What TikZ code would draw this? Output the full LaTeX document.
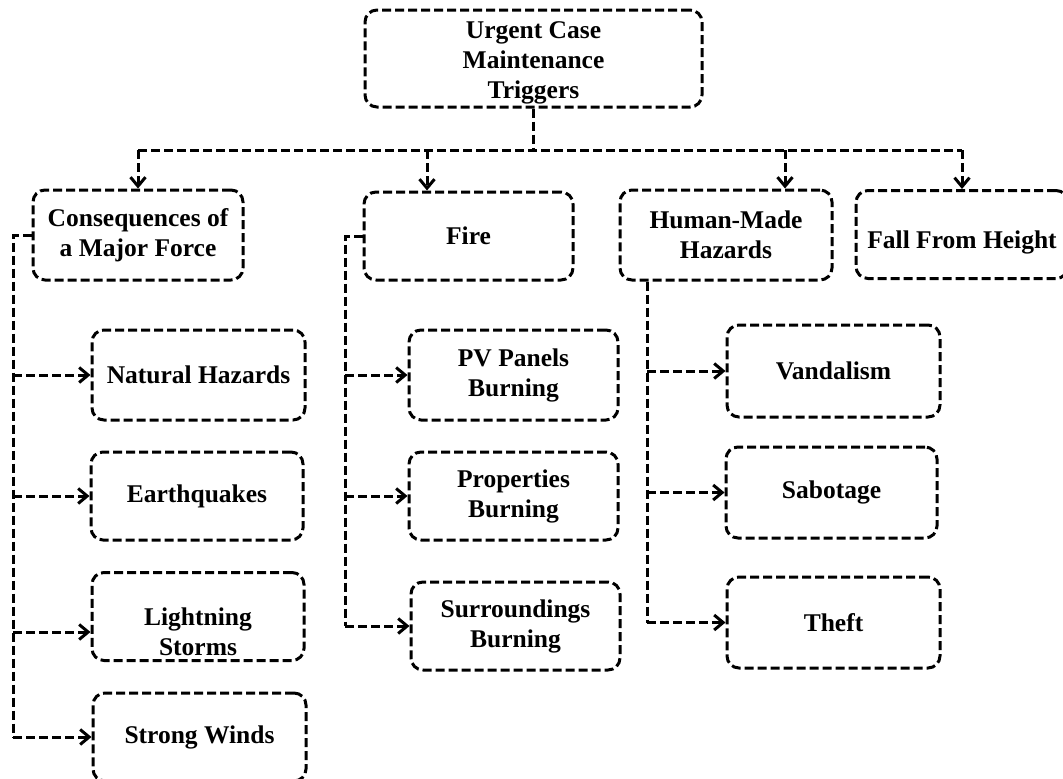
\documentclass[tikz,border=0pt]{standalone}
\usepackage{fontspec}
\setmainfont{Liberation Serif}
\usetikzlibrary{arrows.meta, calc}

\begin{document}
\begin{tikzpicture}[x=1pt, y=-1pt,
  box/.style={draw, line width=3pt, dash pattern=on 9pt off 4pt,
              rounded corners=12pt, minimum width=212pt, minimum height=88pt,
              align=center, font=\fontsize{25.5}{30}\selectfont\bfseries},
  wire/.style={draw, line width=3pt, dash pattern=on 9pt off 4pt},
  feed/.style={wire, -{Straight Barb[length=9pt, width=15pt]}},
]
  \useasboundingbox (0,0) rectangle (1063,779);

  \node[box, minimum width=337pt, minimum height=97pt] (top) at (533.5,58.5) {\raisebox{-10pt}[0pt][0pt]{\begin{tabular}{@{}c@{}}Urgent Case\\Maintenance\\Triggers\end{tabular}}};

  \node[box, minimum width=210pt, minimum height=90pt] (force) at (138,235) {Consequences of\\a Major Force};
  \node[box, minimum width=209pt] (fire) at (468.5,236) {Fire};
  \node[box, minimum height=90pt] (human) at (726,235) {Human-Made\\Hazards};
  \node[box] (fall) at (962,234.5) {\raisebox{-14pt}[0pt][0pt]{Fall From Height}};

  \node[box, minimum width=213pt, minimum height=90pt] (natural) at (198.5,375) {Natural Hazards};
  \node[box] (quake) at (197,496) {Earthquakes};
  \node[box] (storm) at (198,616.5) {\raisebox{-24pt}[0pt][0pt]{\begin{tabular}{@{}c@{}}Lightning\\Storms\end{tabular}}};
  \node[box, minimum width=213pt] (wind) at (199.5,737) {Strong Winds};

  \node[box, minimum width=209pt, minimum height=90pt] (pv) at (513.5,375) {PV Panels\\Burning};
  \node[box, minimum width=209pt] (prop) at (513.5,496) {Properties\\Burning};
  \node[box, minimum width=209pt] (surr) at (515.5,626) {Surroundings\\Burning};

  \node[box, minimum width=213pt, minimum height=92pt] (vand) at (833.5,371) {Vandalism};
  \node[box, minimum width=211pt, minimum height=91pt] (sabo) at (831.5,492.5) {Sabotage};
  \node[box, minimum width=213pt, minimum height=91pt] (theft) at (833.5,622.5) {Theft};

  \coordinate (bus) at (0,150);
  \coordinate (lbus) at (13,0);
  \coordinate (fbus) at (345,0);
  \coordinate (hbus) at (647,0);
  \coordinate (firein) at ($(fire.north)+(-41.5,0)$);
  \coordinate (humanin) at ($(human.north)+(59,0)$);
  \coordinate (stormin) at ($(storm.west)+(0,15.5)$);

  \draw[wire] (top.south) -- (top.south |- bus);
  \draw[wire] (force.north |- bus) -- (fall.north |- bus);
  \draw[feed] (force.north |- bus) -- (force.north);
  \draw[feed] (firein |- bus) -- (firein);
  \draw[feed] (humanin |- bus) -- (humanin);
  \draw[feed] (fall.north |- bus) -- (fall.north);

  \draw[wire] (force.west) -| (lbus |- wind.west);
  \foreach \n in {natural, quake, wind}
    \draw[feed] (lbus |- \n.west) -- (\n.west);
  \draw[feed] (lbus |- stormin) -- (stormin);

  \draw[wire] (fire.west) -| (fbus |- surr.west);
  \foreach \n in {pv, prop, surr}
    \draw[feed] (fbus |- \n.west) -- (\n.west);

  \draw[wire] (hbus |- human.south) -- (hbus |- theft.west);
  \foreach \n in {vand, sabo, theft}
    \draw[feed] (hbus |- \n.west) -- (\n.west);
\end{tikzpicture}
\end{document}
